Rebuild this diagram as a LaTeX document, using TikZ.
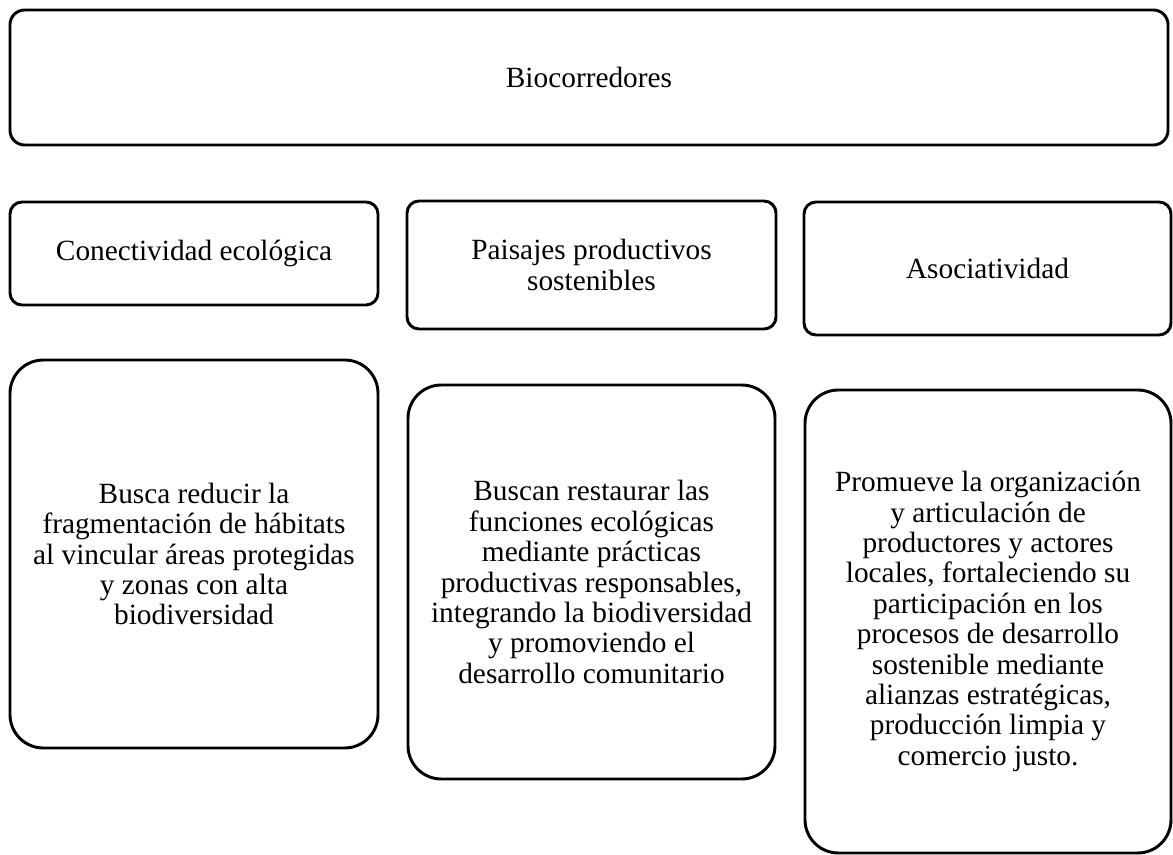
\documentclass[tikz,border=0pt]{standalone}
\usepackage{fontspec}
\setmainfont{Liberation Serif}
\begin{document}
\begin{tikzpicture}[x=0.75pt,y=-0.75pt,
  box/.style={draw, line width=2.2pt, inner sep=0pt, align=center, anchor=center,
    font=\fontsize{22}{22.8}\selectfont},
  topbox/.style={box, rounded corners=11pt},
  midbox/.style={box, rounded corners=9pt},
  lowbox/.style={box, rounded corners=25pt}]
\useasboundingbox (0,0) rectangle (1173,855);
\node[topbox, minimum width=868.5pt, minimum height=101.25pt] (top) at (589,77.5) {Biocorredores};
\node[midbox, minimum width=276pt, minimum height=77.25pt] (m1) at (194,253.5) {Conectividad ecológica};
\node[midbox, minimum width=276.75pt, minimum height=96pt] (m2) at (591.5,265) {Paisajes productivos\\sostenibles};
\node[midbox, minimum width=275.25pt, minimum height=99.75pt] (m3) at (987.5,268.5) {Asociatividad};
\node[lowbox, minimum width=276pt, minimum height=291pt] (b1) at (194,554) {Busca reducir la\\fragmentación de hábitats\\al vincular áreas protegidas\\y zonas con alta\\biodiversidad};
\node[lowbox, minimum width=275.25pt, minimum height=295.5pt] (b2) at (591.5,582) {Buscan restaurar las\\funciones ecológicas\\mediante prácticas\\productivas responsables,\\integrando la biodiversidad\\y promoviendo el\\desarrollo comunitario};
\node[lowbox, minimum width=274.5pt, minimum height=347.25pt] (b3) at (988,621.5) {Promueve la organización\\y articulación de\\productores y actores\\locales, fortaleciendo su\\participación en los\\procesos de desarrollo\\sostenible mediante\\alianzas estratégicas,\\producción limpia y\\comercio justo.};
\end{tikzpicture}
\end{document}
